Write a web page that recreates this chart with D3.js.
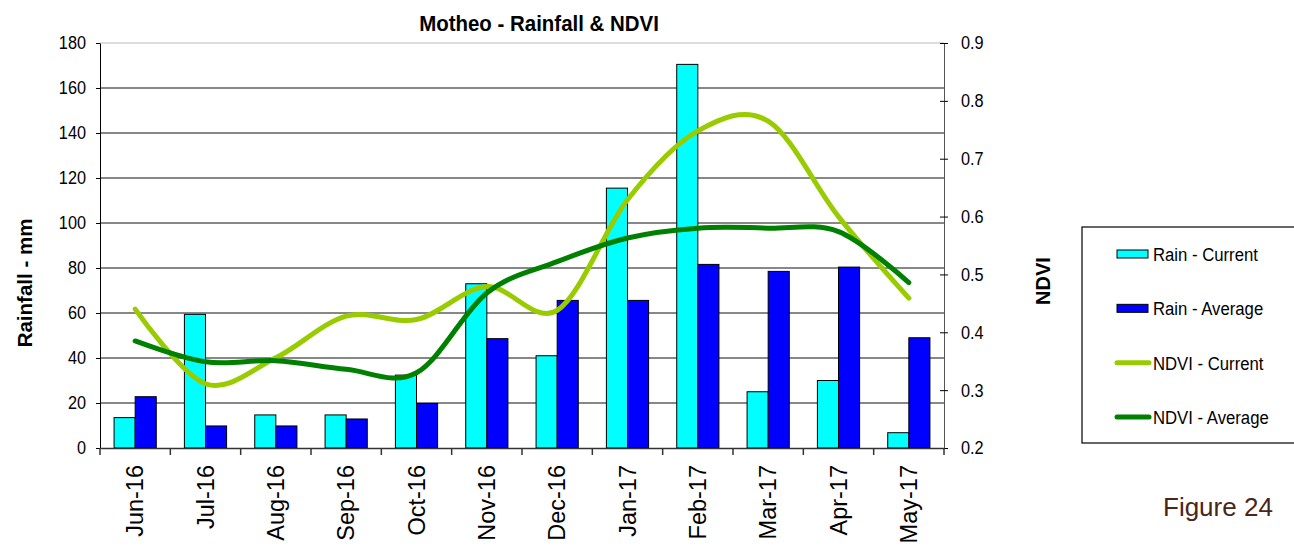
<!DOCTYPE html>
<html>
<head>
<meta charset="utf-8">
<script src="https://cdn.jsdelivr.net/npm/d3@7"></script>
<style>
  body { margin: 0; background: #fff; }
  text { font-family: Arial, "Liberation Sans", sans-serif; }
</style>
</head>
<body>
<div id="chart"></div>
<script>
const months = ["Jun-16", "Jul-16", "Aug-16", "Sep-16", "Oct-16", "Nov-16", "Dec-16", "Jan-17", "Feb-17", "Mar-17", "Apr-17", "May-17"];
const rainCurrent = [13.5, 59.4, 14.7, 14.7, 32.4, 73, 41, 115.5, 170.5, 25, 30, 6.8];
const rainAverage = [22.8, 9.8, 9.8, 12.9, 19.8, 48.6, 65.6, 65.6, 81.6, 78.5, 80.4, 49];
const ndviCurrent = [0.44, 0.311, 0.356, 0.428, 0.422, 0.479, 0.438, 0.629, 0.748, 0.765, 0.6, 0.459];
const ndviAverage = [0.385, 0.349, 0.351, 0.336, 0.33, 0.468, 0.522, 0.563, 0.58, 0.58, 0.574, 0.486];
const rainTicks = [0, 20, 40, 60, 80, 100, 120, 140, 160, 180];
const ndviTicks = [0.2, 0.3, 0.4, 0.5, 0.6, 0.7, 0.8, 0.9];
const legendItems = [
  {name: "Rain - Current", type: "bar", color: "#00ffff"},
  {name: "Rain - Average", type: "bar", color: "#0000ff"},
  {name: "NDVI - Current", type: "line", color: "#99cc00"},
  {name: "NDVI - Average", type: "line", color: "#008000"}
];

const width = 1294, height = 554;
const margin = {top: 43, right: 350, bottom: 106, left: 100};
const sx = 0.88; // reference text is squeezed horizontally

const svg = d3.select("#chart").append("svg")
    .attr("width", width)
    .attr("height", height);

const x = d3.scaleBand()
    .domain(months)
    .range([margin.left, width - margin.right]);

const xSub = d3.scaleBand()
    .domain(["cur", "avg"])
    .range([x.bandwidth() * 0.2, x.bandwidth() * 0.8]);

const yRain = d3.scaleLinear()
    .domain([0, 180])
    .range([height - margin.bottom, margin.top]);

const yNdvi = d3.scaleLinear()
    .domain([0.2, 0.9])
    .range([height - margin.bottom, margin.top]);

// squeezed text helper
function label(g, tx, ty, str, opts) {
  const t = g.append("text")
      .attr("transform", `translate(${tx},${ty}) ${opts.rotate ? "rotate(-90)" : `scale(${opts.scale || sx},1)`}`)
      .attr("text-anchor", opts.anchor || "start")
      .attr("font-size", opts.size)
      .attr("font-weight", opts.bold ? "bold" : null)
      .attr("fill", opts.color || "#000")
      .text(str);
  return t;
}

// gridlines
svg.append("g")
  .selectAll("line")
  .data(rainTicks.slice(1))
  .join("line")
    .attr("x1", margin.left)
    .attr("x2", width - margin.right)
    .attr("y1", d => yRain(d))
    .attr("y2", d => yRain(d))
    .attr("stroke", d => d === 180 ? "#bbb" : "#111")
    .attr("stroke-width", 1);

// bars
const groups = svg.append("g")
  .selectAll("g")
  .data(months)
  .join("g")
    .attr("transform", d => `translate(${x(d)},0)`);

groups.append("rect")
    .attr("x", xSub("cur"))
    .attr("width", xSub.bandwidth())
    .attr("y", (d, i) => yRain(rainCurrent[i]))
    .attr("height", (d, i) => yRain(0) - yRain(rainCurrent[i]))
    .attr("fill", "#00ffff")
    .attr("stroke", "#000")
    .attr("stroke-width", 1);

groups.append("rect")
    .attr("x", xSub("avg"))
    .attr("width", xSub.bandwidth())
    .attr("y", (d, i) => yRain(rainAverage[i]))
    .attr("height", (d, i) => yRain(0) - yRain(rainAverage[i]))
    .attr("fill", "#0000ff")
    .attr("stroke", "#000")
    .attr("stroke-width", 1);

// NDVI lines
const line = d3.line()
    .x((d, i) => x(months[i]) + x.bandwidth() / 2)
    .y(d => yNdvi(d))
    .curve(d3.curveCardinal.tension(0));

svg.append("path")
    .attr("d", line(ndviCurrent))
    .attr("fill", "none")
    .attr("stroke", "#99cc00")
    .attr("stroke-width", 5)
    .attr("stroke-linecap", "round");

svg.append("path")
    .attr("d", line(ndviAverage))
    .attr("fill", "none")
    .attr("stroke", "#008000")
    .attr("stroke-width", 5)
    .attr("stroke-linecap", "round");

// left axis
const yAxisL = svg.append("g")
    .attr("transform", `translate(${margin.left},0)`)
    .call(d3.axisLeft(yRain).tickValues(rainTicks).tickSize(4).tickSizeOuter(0));
yAxisL.select(".domain").attr("stroke", "#000");
yAxisL.selectAll(".tick text")
    .attr("font-size", 18.5)
    .attr("font-family", "Arial, 'Liberation Sans', sans-serif")
    .attr("fill", "#000")
    .attr("x", -14 / sx)
    .attr("transform", `scale(${sx},1)`);

// right axis
const yAxisR = svg.append("g")
    .attr("transform", `translate(${width - margin.right},0)`)
    .call(d3.axisRight(yNdvi).tickValues(ndviTicks).tickFormat(d3.format(".1f")).tickSize(4).tickSizeOuter(0));
yAxisR.select(".domain").attr("stroke", "#555");
yAxisR.selectAll(".tick line").attr("x1", -4).attr("stroke", "#000");
yAxisR.selectAll(".tick text")
    .attr("font-size", 18.5)
    .attr("font-family", "Arial, 'Liberation Sans', sans-serif")
    .attr("fill", "#000")
    .attr("x", 17 / sx)
    .attr("transform", `scale(${sx},1)`);

// bottom axis
const xAxis = svg.append("g")
    .attr("transform", `translate(0,${height - margin.bottom})`)
    .call(d3.axisBottom(x).tickSize(0).tickSizeOuter(0));
xAxis.select(".domain").attr("stroke", "#333").attr("stroke-width", 1.5);
xAxis.selectAll(".tick text")
    .attr("font-size", 23.5)
    .attr("font-family", "Arial, 'Liberation Sans', sans-serif")
    .attr("fill", "#000")
    .attr("text-anchor", "end")
    .attr("transform", "rotate(-90)")
    .attr("x", -17)
    .attr("y", 0)
    .attr("dy", "0.35em");

svg.append("g")
  .selectAll("line")
  .data(months.concat(["end"]))
  .join("line")
    .attr("x1", (d, i) => i < months.length ? x(d) : x.range()[1])
    .attr("x2", (d, i) => i < months.length ? x(d) : x.range()[1])
    .attr("y1", height - margin.bottom)
    .attr("y2", height - margin.bottom + 7)
    .attr("stroke", "#333")
    .attr("stroke-width", 1.5);

// title and axis titles
label(svg, 539, 31, "Motheo - Rainfall & NDVI", {size: 22, bold: true, anchor: "middle", scale: 0.93});
label(svg, 32, 283, "Rainfall - mm", {size: 20.5, bold: true, anchor: "middle", rotate: true});
label(svg, 1050, 281, "NDVI", {size: 20, bold: true, anchor: "middle", rotate: true});

// legend
const legend = svg.append("g");
legend.append("rect")
    .attr("x", 1082)
    .attr("y", 227)
    .attr("width", 220)
    .attr("height", 216)
    .attr("fill", "#fff")
    .attr("stroke", "#000")
    .attr("stroke-width", 1.2);

const rowY = d3.scalePoint()
    .domain(legendItems.map(d => d.name))
    .range([254, 417]);

legendItems.forEach(d => {
  const cy = rowY(d.name);
  if (d.type === "bar") {
    legend.append("rect")
        .attr("x", 1117)
        .attr("y", cy - 4)
        .attr("width", 31)
        .attr("height", 8)
        .attr("fill", d.color)
        .attr("stroke", "#000")
        .attr("stroke-width", 1);
  } else {
    legend.append("line")
        .attr("x1", 1117)
        .attr("x2", 1149)
        .attr("y1", cy)
        .attr("y2", cy)
        .attr("stroke", d.color)
        .attr("stroke-width", 5)
        .attr("stroke-linecap", "round");
  }
  label(legend, 1153, cy + 7, d.name, {size: 19});
});

label(svg, 1163, 516, "Figure 24", {size: 26, color: "#4a2618", scale: 1});
</script>
</body>
</html>
